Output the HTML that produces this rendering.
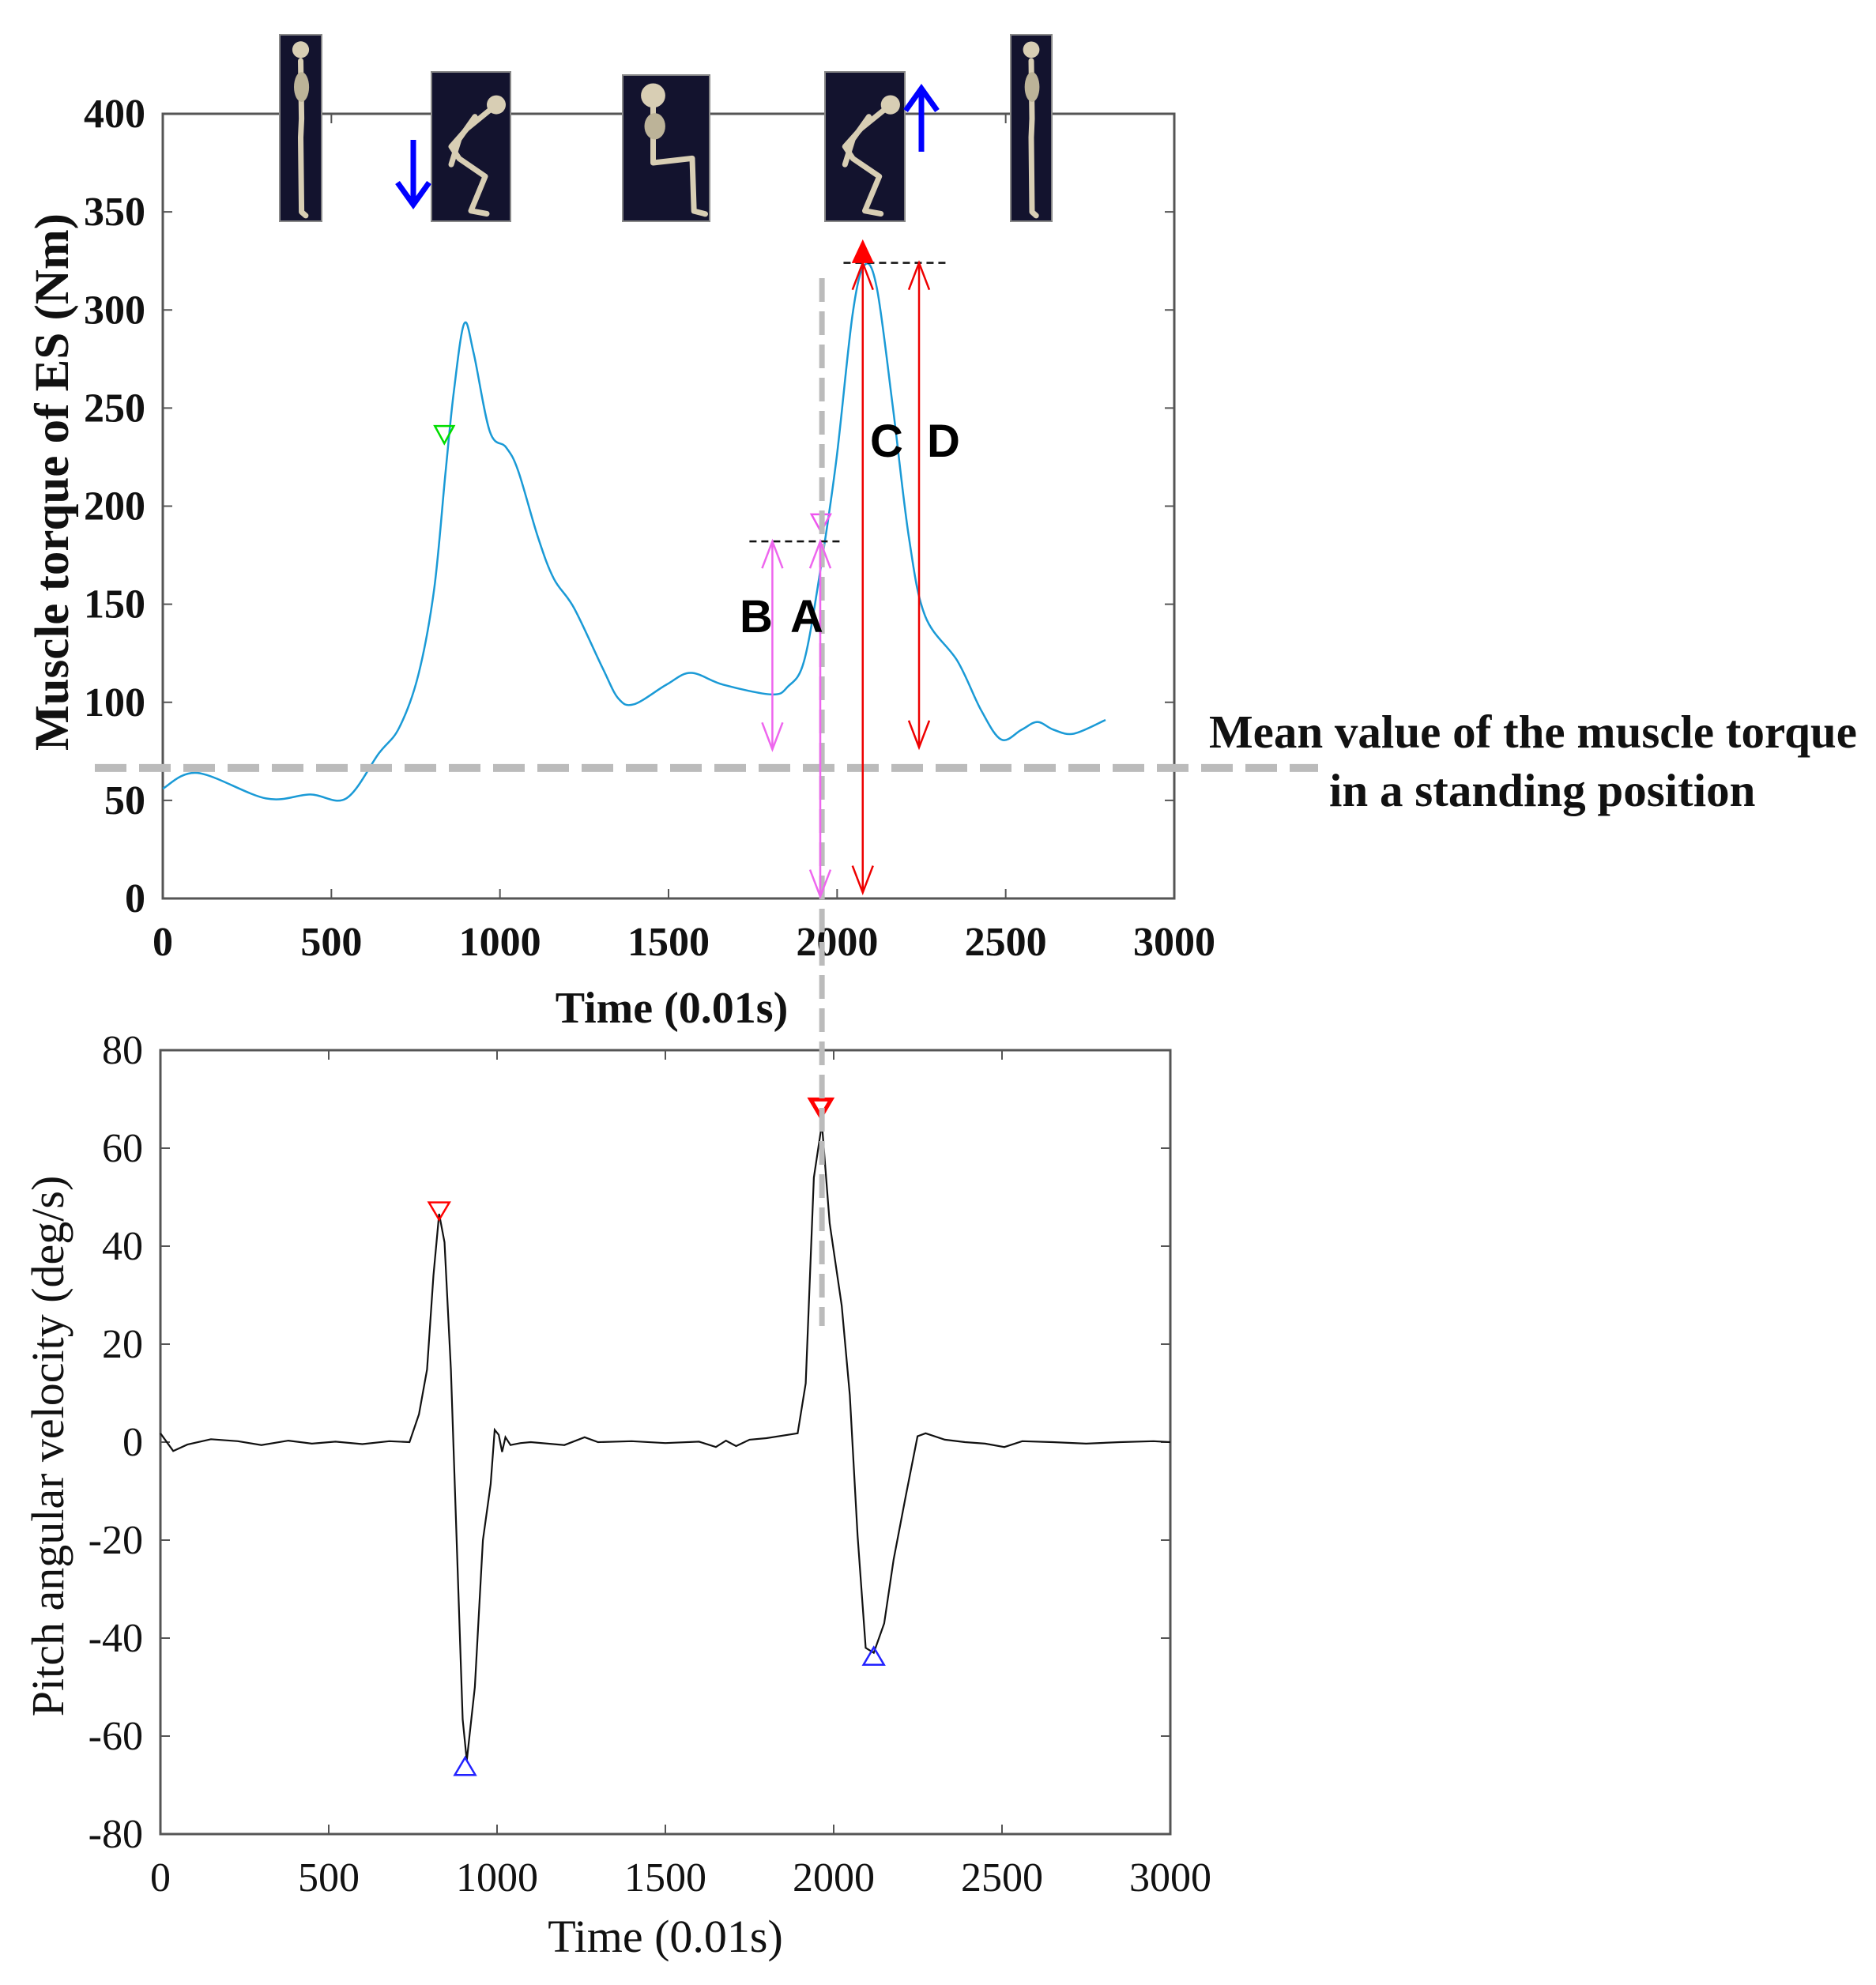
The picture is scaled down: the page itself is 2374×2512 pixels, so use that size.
<!DOCTYPE html>
<html><head><meta charset="utf-8"><style>
html,body{margin:0;padding:0;background:#fff;}
svg{display:block;}
.tk{font-family:"Liberation Serif",serif;}
</style></head><body>
<svg id="fig" width="2374" height="2512" viewBox="0 0 2374 2512" xmlns="http://www.w3.org/2000/svg">
<g id="topchart"></g>
<g id="botchart"></g>
<g id="ann"></g>
</svg>
<script>
// ---- top chart data (Time 0.01s, Nm) ----
const torqueT = [0,103,306,437,544,641,701,758,805,839,863,894,922,970,1018,1054,1113,1160,1220,1303,1351,1398,1494,1566,1662,1806,1854,1902,1950,1998,2046,2082,2118,2165,2213,2261,2357,2427,2487,2547,2594,2642,2702,2796];
const torqueV = [56,64,51,53,51,74,87,114,158,218,258,293,278,238,230,218,184,163,148,118,102,99,109,115,109,104,108,121,167,224,298,323,311,251,184,144,121,96,81,86,90,86,84,91];
const torqueTicksX = [0,500,1000,1500,2000,2500,3000];
const torqueTicksY = [0,50,100,150,200,250,300,350,400];
const torqueMarkers = [{t:835,v:236,c:"#00dd00"},{t:1952,v:191,c:"#ee55ee"}];
const meanStanding = 66.5;
const crossT = 1955;
// ---- bottom chart data (Time 0.01s, deg/s) ----
const velT = [0,38,80,150,230,300,380,450,520,600,680,740,768,792,811,828,844,863,882,898,910,934,958,981,993,1005,1015,1025,1040,1070,1100,1200,1260,1300,1400,1500,1600,1650,1680,1710,1750,1800,1893,1917,1941,1965,1988,2024,2048,2071,2095,2119,2150,2178,2214,2249,2273,2330,2390,2450,2507,2560,2650,2750,2850,2950,3000];
const velV = [1.8,-1.8,-0.5,0.6,0.2,-0.6,0.3,-0.3,0.1,-0.4,0.2,0,5.7,14.8,34,46.6,40.8,14.8,-24,-56.6,-65,-50,-20,-8.6,2.5,1.5,-2,1,-0.6,-0.2,0,-0.6,1,0,0.2,-0.2,0.1,-1,0.3,-0.8,0.5,0.8,1.8,12,54,65,44.7,27.8,9.6,-19,-42,-43,-37,-24,-11,1.2,1.8,0.5,0,-0.3,-1,0.2,0,-0.3,0,0.2,0];
const velTicksX = [0,500,1000,1500,2000,2500,3000];
const velTicksY = [-80,-60,-40,-20,0,20,40,60,80];
const velPeaks = [{t:828,v:47},{t:1962,v:68}];
const velTroughs = [{t:905,v:-66},{t:2119,v:-43.5}];

const NS="http://www.w3.org/2000/svg";
function mk(parent,tag,attrs,text){const e=document.createElementNS(NS,tag);for(const k in attrs)e.setAttribute(k,attrs[k]);if(text!==undefined)e.textContent=text;parent.appendChild(e);return e;}

const T={x0:206,x1:1486,y0:1137,y1:144,tmax:3000,vmin:0,vmax:400};
const B={x0:203,x1:1481,y0:2321,y1:1329,tmax:3000,vmin:-80,vmax:80};
function sx(A,t){return A.x0+(A.x1-A.x0)*t/A.tmax;}
function sy(A,v){return A.y0-(A.y0-A.y1)*(v-A.vmin)/(A.vmax-A.vmin);}

function smoothPath(A,ts,vs){
  const p=ts.map((t,i)=>[sx(A,t),sy(A,vs[i])]);
  let d="M"+p[0][0].toFixed(1)+","+p[0][1].toFixed(1);
  for(let i=0;i<p.length-1;i++){
    const p0=p[Math.max(0,i-1)],p1=p[i],p2=p[i+1],p3=p[Math.min(p.length-1,i+2)];
    const c1=[p1[0]+(p2[0]-p0[0])/6,p1[1]+(p2[1]-p0[1])/6];
    const c2=[p2[0]-(p3[0]-p1[0])/6,p2[1]-(p3[1]-p1[1])/6];
    d+=" C"+c1.map(v=>v.toFixed(1)).join(",")+" "+c2.map(v=>v.toFixed(1)).join(",")+" "+p2[0].toFixed(1)+","+p2[1].toFixed(1);
  }
  return d;
}

function frame(g,A,ticksX,ticksY,bold,name){
  const f=mk(g,"rect",{x:A.x0,y:A.y1,width:A.x1-A.x0,height:A.y0-A.y1,fill:"none",stroke:"#555","stroke-width":3});
  
  
  ticksX.forEach(t=>{const x=sx(A,t);
    mk(g,"line",{x1:x,y1:A.y0,x2:x,y2:A.y0-12,stroke:"#555","stroke-width":2});
    mk(g,"line",{x1:x,y1:A.y1,x2:x,y2:A.y1+12,stroke:"#555","stroke-width":2});
    const l=mk(g,"text",{x:x,y:A.y0+72,"text-anchor":"middle",class:"tk","font-size":bold?52:52,"font-weight":bold?"bold":"normal",fill:"#111"},String(t));
    
    
  });
  ticksY.forEach(v=>{const y=sy(A,v);
    mk(g,"line",{x1:A.x0,y1:y,x2:A.x0+12,y2:y,stroke:"#555","stroke-width":2});
    mk(g,"line",{x1:A.x1,y1:y,x2:A.x1-12,y2:y,stroke:"#555","stroke-width":2});
    const l=mk(g,"text",{x:A.x0-22,y:y+17,"text-anchor":"end",class:"tk","font-size":bold?52:52,"font-weight":bold?"bold":"normal",fill:"#111"},String(v));
    
    
  });
}

const topG=document.getElementById("topchart");
function skeleton(x,y,w,h,pose){
  const g=mk(topG,"g",{});
  
  
  mk(g,"rect",{x:x,y:y,width:w,height:h,fill:"#13132e",stroke:"#888","stroke-width":2});
  const P=(u,v)=>(x+u*w).toFixed(1)+","+(y+v*h).toFixed(1);
  const st={fill:"none",stroke:"#d8ceb4","stroke-width":7,"stroke-linecap":"round","stroke-linejoin":"round"};
  if(pose==="standing"){
    mk(g,"circle",{cx:x+0.5*w,cy:y+0.08*h,r:w*0.2,fill:"#d8ceb4"});
    mk(g,"polyline",Object.assign({points:[P(.5,.14),P(.52,.45),P(.5,.55),P(.52,.95),P(.62,.97)].join(" ")},st));
    mk(g,"ellipse",{cx:x+0.52*w,cy:y+0.28*h,rx:w*0.18,ry:h*0.08,fill:"#bcb398"});
  } else if(pose==="bent"){
    mk(g,"circle",{cx:x+0.82*w,cy:y+0.22*h,r:w*0.12,fill:"#d8ceb4"});
    mk(g,"polyline",Object.assign({points:[P(.75,.25),P(.45,.38),P(.25,.5),P(.35,.58),P(.68,.7),P(.5,.93),P(.7,.95)].join(" ")},st));
    mk(g,"polyline",Object.assign({points:[P(.55,.3),P(.35,.45),P(.25,.62)].join(" ")},st));
  } else {
    mk(g,"circle",{cx:x+0.35*w,cy:y+0.14*h,r:w*0.14,fill:"#d8ceb4"});
    mk(g,"polyline",Object.assign({points:[P(.35,.2),P(.35,.6),P(.8,.57),P(.82,.93),P(.95,.95)].join(" ")},st));
    mk(g,"ellipse",{cx:x+0.37*w,cy:y+0.35*h,rx:w*0.12,ry:h*0.09,fill:"#bcb398"});
  }
}
frame(topG,T,torqueTicksX,torqueTicksY,true,"torque");
skeleton(354,44,53,236,"standing");
skeleton(546,91,100,189,"bent");
skeleton(788,95,110,185,"sitting");
skeleton(1044,91,101,189,"bent");
skeleton(1279,44,52,236,"standing");
function arrow(g,x,y1,y2,color,w,name){
  const a=mk(g,"g",{});
  
  
  mk(a,"line",{x1:x,y1:y1,x2:x,y2:y2,stroke:color,"stroke-width":w});
  const dir=y2>y1?1:-1;
  mk(a,"polyline",{points:(x-20)+","+(y2-dir*28)+" "+x+","+y2+" "+(x+20)+","+(y2-dir*28),fill:"none",stroke:color,"stroke-width":w});
}
arrow(topG,523,177,259,"#0000ff",7,"down-arrow");
arrow(topG,1166,192,112,"#0000ff",7,"up-arrow");

const tc=mk(topG,"path",{d:smoothPath(T,torqueT,torqueV),fill:"none",stroke:"#1a9ad6","stroke-width":2.5});


torqueMarkers.forEach(m=>{const x=sx(T,m.t),y=sy(T,m.v);
  const tri=mk(topG,"polygon",{points:(x-12)+","+(y-12)+" "+(x+12)+","+(y-12)+" "+x+","+(y+10),fill:"none",stroke:m.c,"stroke-width":2.5});
  
  
});
let tt=mk(topG,"text",{x:0,y:0,transform:"translate(86,610) rotate(-90)","text-anchor":"middle",class:"tk","font-size":61,"font-weight":"bold",fill:"#111"},"Muscle torque of ES (Nm)");


tt=mk(topG,"text",{x:850,y:1294,"text-anchor":"middle",class:"tk","font-size":56,"font-weight":"bold",fill:"#111"},"Time (0.01s)");



const botG=document.getElementById("botchart");
frame(botG,B,velTicksX,velTicksY,false,"velocity");
const vc=mk(botG,"polyline",{points:velT.map((t,i)=>sx(B,t).toFixed(1)+","+sy(B,velV[i]).toFixed(1)).join(" "),fill:"none",stroke:"#111","stroke-width":2.2});


velPeaks.forEach((m,i)=>{const x=sx(B,m.t),y=sy(B,m.v);
  const tri=mk(botG,"polygon",{points:(x-13)+","+(y-12)+" "+(x+13)+","+(y-12)+" "+x+","+(y+10),fill:"none",stroke:"#ff0000","stroke-width":i?5:2.5});
  
  
});
velTroughs.forEach(m=>{const x=sx(B,m.t),y=sy(B,m.v);
  const tri=mk(botG,"polygon",{points:(x-13)+","+(y+12)+" "+(x+13)+","+(y+12)+" "+x+","+(y-10),fill:"none",stroke:"#2222ff","stroke-width":2.5});
  
  
});
tt=mk(botG,"text",{x:0,y:0,transform:"translate(80,1830) rotate(-90)","text-anchor":"middle",class:"tk","font-size":58,fill:"#111"},"Pitch angular velocity (deg/s)");


tt=mk(botG,"text",{x:842,y:2470,"text-anchor":"middle",class:"tk","font-size":58,fill:"#111"},"Time (0.01s)");



const ann=document.getElementById("ann");
const ym=sy(T,meanStanding);
let l=mk(ann,"line",{x1:120,y1:ym,x2:1668,y2:ym,stroke:"#bbb","stroke-width":10,"stroke-dasharray":"40,16"});


const xc=sx(T,crossT);
l=mk(ann,"line",{x1:xc,y1:352,x2:xc,y2:1678,stroke:"#bbb","stroke-width":7,"stroke-dasharray":"30,12"});


let tx=mk(ann,"text",{x:1530,y:946,class:"tk","font-size":59,"font-weight":"bold",fill:"#111"},"Mean value of the muscle torque");


tx=mk(ann,"text",{x:1682,y:1020,class:"tk","font-size":59,"font-weight":"bold",fill:"#111"},"in a standing position");


mk(ann,"line",{x1:sx(T,1740),y1:sy(T,182),x2:sx(T,2008),y2:sy(T,182),stroke:"#111","stroke-width":2.5,"stroke-dasharray":"9,6"});
mk(ann,"line",{x1:sx(T,2019),y1:sy(T,324),x2:sx(T,2325),y2:sy(T,324),stroke:"#111","stroke-width":2.5,"stroke-dasharray":"9,6"});
function dbl(t,v1,v2,color,name){
  const x=sx(T,t),y1=sy(T,v1),y2=sy(T,v2);
  const g=mk(ann,"g",{});
  
  
  mk(g,"line",{x1:x,y1:y1,x2:x,y2:y2,stroke:color,"stroke-width":2.5});
  mk(g,"polyline",{points:(x-13)+","+(y1+34)+" "+x+","+y1+" "+(x+13)+","+(y1+34),fill:"none",stroke:color,"stroke-width":2.5});
  mk(g,"polyline",{points:(x-13)+","+(y2-34)+" "+x+","+y2+" "+(x+13)+","+(y2-34),fill:"none",stroke:color,"stroke-width":2.5});
}
dbl(1808,182,76,"#ee66ee","arrow-B");
dbl(1950,182,1,"#ee66ee","arrow-A");
dbl(2076,324,3,"#ee0000","arrow-C");
dbl(2243,324,77,"#ee0000","arrow-D");
const hx=sx(T,2076),hy=sy(T,336);
l=mk(ann,"polygon",{points:(hx-14)+","+(hy+30)+" "+(hx+14)+","+(hy+30)+" "+hx+","+hy,fill:"#ff0000"});


[["B",936,800],["A",1000,800],["C",1101,578],["D",1173,578]].forEach(a=>{
  const e=mk(ann,"text",{x:a[1],y:a[2],"font-family":"Liberation Sans, sans-serif","font-size":58,"font-weight":"bold",fill:"#000"},a[0]);
  
  
});
</script>
</body></html>
